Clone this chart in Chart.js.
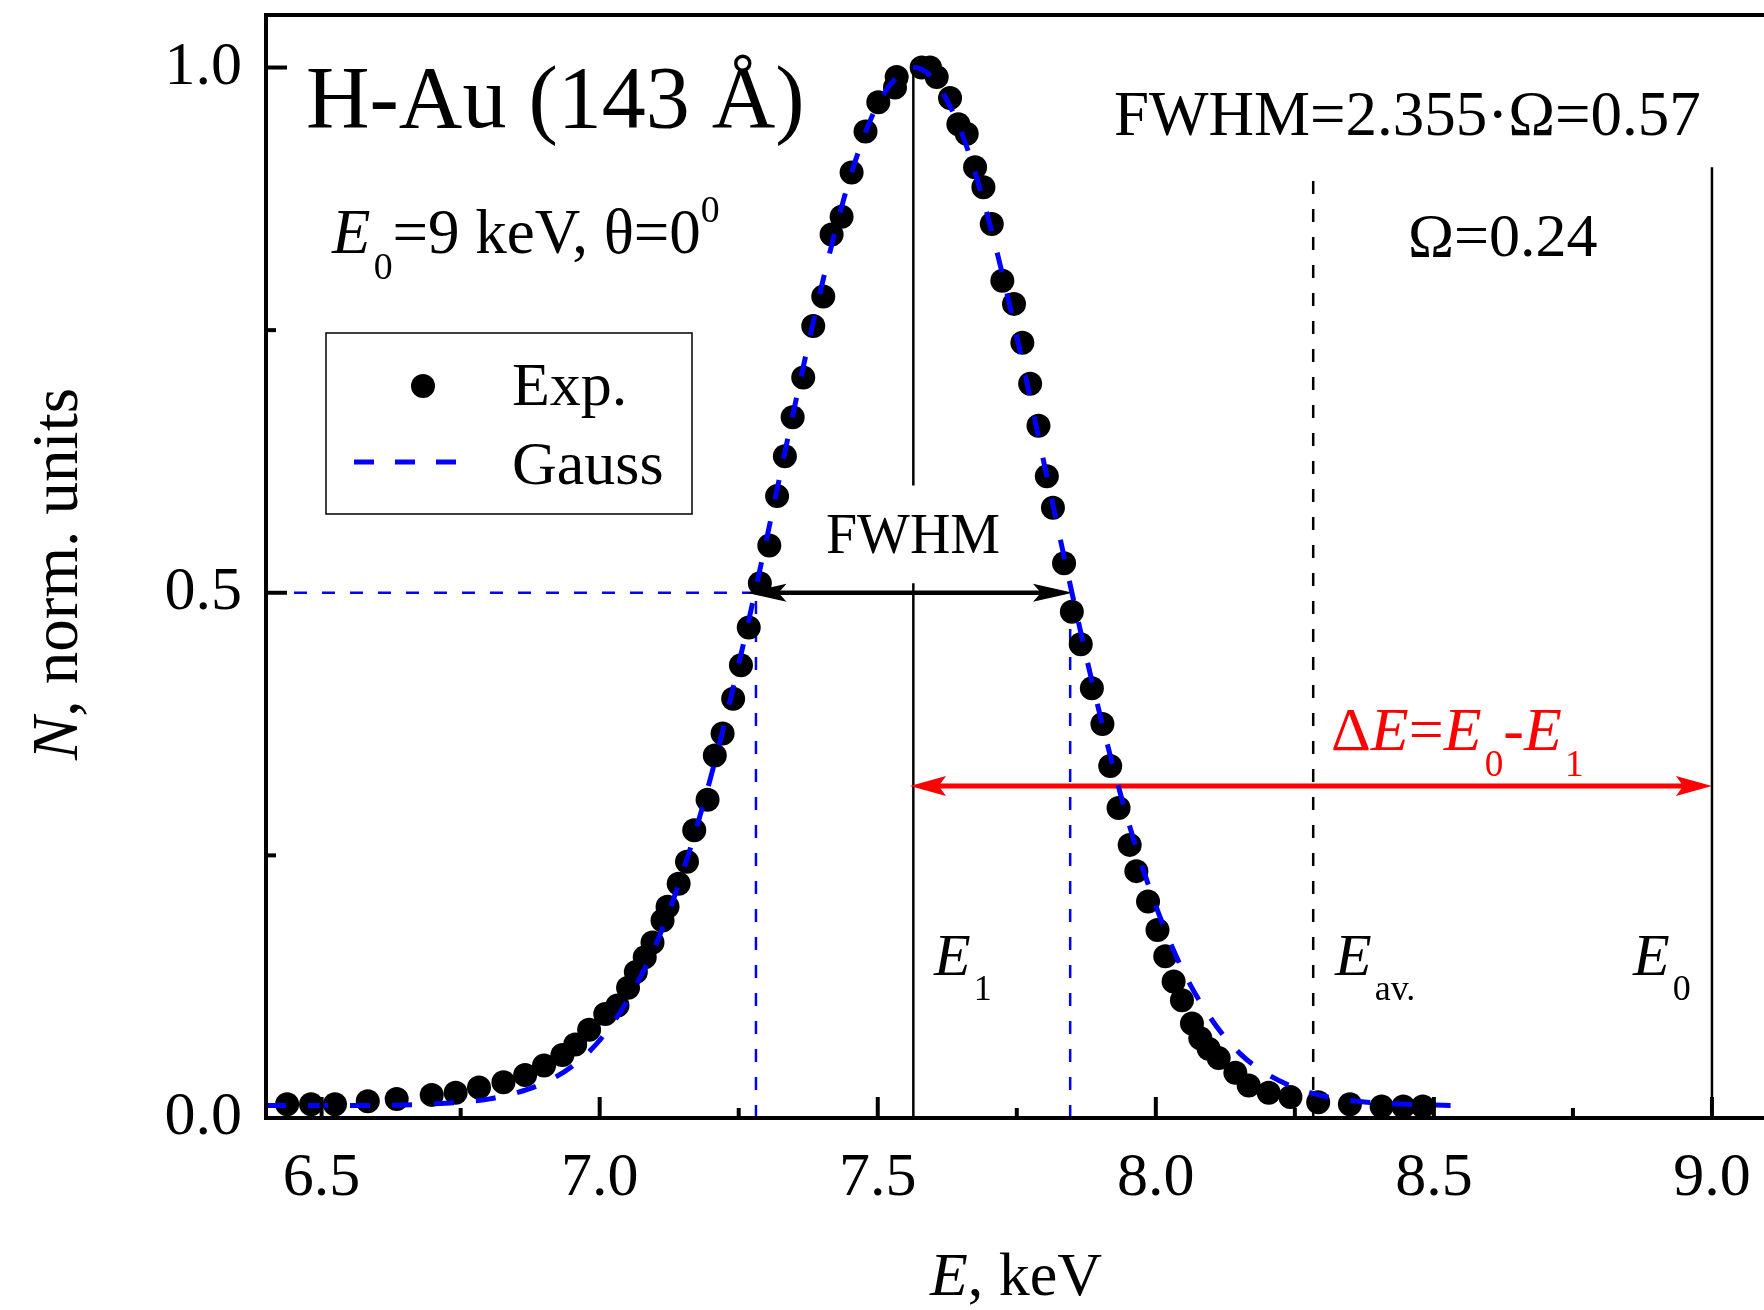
<!DOCTYPE html>
<html>
<head>
<meta charset="utf-8">
<script src="https://cdn.jsdelivr.net/npm/chart.js@4.4.1/dist/chart.umd.min.js"></script>
<style>
  html, body { margin: 0; padding: 0; background: #fff; }
  canvas { display: block; }
</style>
</head>
<body>
<canvas id="spectrumChart" width="1764" height="1310"></canvas>
<script>
// Experimental spectrum (energy in keV, normalized counts)
const expEnergy = [6.438, 6.481, 6.524, 6.583, 6.635, 6.698, 6.741, 6.783, 6.827, 6.866,
  6.900, 6.933, 6.956, 6.981, 7.010, 7.032, 7.051, 7.065, 7.081, 7.095,
  7.113, 7.122, 7.142, 7.157, 7.170, 7.194, 7.207, 7.221, 7.240, 7.254,
  7.268, 7.288, 7.305, 7.319, 7.333, 7.347, 7.366, 7.384, 7.402, 7.417,
  7.435, 7.453, 7.478, 7.501, 7.531, 7.534, 7.579, 7.594, 7.606, 7.630,
  7.645, 7.660, 7.675, 7.690, 7.705, 7.724, 7.745, 7.760, 7.774, 7.789,
  7.804, 7.815, 7.835, 7.849, 7.865, 7.885, 7.904, 7.918, 7.933, 7.953,
  7.965, 7.986, 8.003, 8.017, 8.032, 8.047, 8.065, 8.080, 8.095, 8.113,
  8.143, 8.167, 8.203, 8.242, 8.292, 8.349, 8.406, 8.445, 8.480];
const expCounts = [0.013, 0.013, 0.013, 0.016, 0.018, 0.022, 0.024, 0.029, 0.034, 0.041,
  0.050, 0.060, 0.070, 0.084, 0.099, 0.107, 0.124, 0.139, 0.153, 0.167,
  0.188, 0.201, 0.223, 0.244, 0.274, 0.303, 0.345, 0.366, 0.399, 0.431,
  0.467, 0.509, 0.545, 0.592, 0.630, 0.667, 0.705, 0.754, 0.782, 0.841,
  0.858, 0.900, 0.939, 0.967, 0.981, 0.991, 1.000, 1.000, 0.991, 0.971,
  0.946, 0.937, 0.905, 0.886, 0.851, 0.797, 0.775, 0.738, 0.699, 0.659,
  0.611, 0.581, 0.528, 0.482, 0.451, 0.409, 0.375, 0.335, 0.295, 0.260,
  0.235, 0.206, 0.179, 0.154, 0.130, 0.112, 0.090, 0.076, 0.066, 0.057,
  0.043, 0.031, 0.024, 0.020, 0.015, 0.013, 0.011, 0.011, 0.011];

// Gauss fit curve
const gaussEnergy = [6.40, 6.50, 6.60, 6.70, 6.75, 6.80, 6.85, 6.90, 6.95, 7.00,
  7.05, 7.10, 7.15, 7.20, 7.25, 7.30, 7.35, 7.40, 7.45, 7.50,
  7.55, 7.564, 7.60, 7.65, 7.70, 7.75, 7.80, 7.85, 7.90, 7.95,
  8.00, 8.05, 8.10, 8.15, 8.20, 8.25, 8.30, 8.35, 8.40, 8.45, 8.53];
const gaussCounts = [0.012, 0.012, 0.012, 0.0135, 0.015, 0.018, 0.024, 0.0335, 0.049, 0.074,
  0.112, 0.164, 0.235, 0.325, 0.432, 0.551, 0.676, 0.794, 0.895, 0.965,
  0.998, 1.000, 0.989, 0.939, 0.854, 0.744, 0.621, 0.498, 0.383, 0.283,
  0.202, 0.139, 0.094, 0.062, 0.042, 0.029, 0.021, 0.0166, 0.0143, 0.013, 0.012];

// Axis ticks
const xMajorTicks = [6.5, 7.0, 7.5, 8.0, 8.5, 9.0];
const xMinorTicks = [6.75, 7.25, 7.75, 8.25, 8.75];
const yMajorTicks = [0.0, 0.5, 1.0];
const yMinorTicks = [0.25, 0.75];

// Marked energies (keV)
const E1 = 7.564;        // peak position
const Eav = 8.283;       // average energy
const E0 = 9.0;          // initial energy
const halfLeft = 7.281;  // FWHM bounds
const halfRight = 7.846;

const FONT = '"Liberation Serif", "Times New Roman", serif';

// draws a line of text with italic / sub / sup parts
function drawRich(ctx, x, y, size, parts, align, color) {
  const fontFor = (p) => {
    const s = (p[1] === 'sub' || p[1] === 'sup') ? size * 0.6 : size;
    return (p[1] === 'i' ? 'italic ' : '') + s + 'px ' + FONT;
  };
  let total = 0;
  parts.forEach(p => { ctx.font = fontFor(p); total += ctx.measureText(p[0]).width + (p[1] === 'sub' ? size * 0.05 : 0); });
  let cx = x;
  if (align === 'center') cx = x - total / 2;
  if (align === 'right') cx = x - total;
  ctx.fillStyle = color || '#000';
  ctx.textAlign = 'left';
  ctx.textBaseline = 'alphabetic';
  parts.forEach(p => {
    ctx.font = fontFor(p);
    let dy = 0;
    if (p[1] === 'sub') { cx += size * 0.05; dy = size * 0.42; }
    if (p[1] === 'sup') dy = -size * 0.5;
    ctx.fillText(p[0], cx, y + dy);
    cx += ctx.measureText(p[0]).width;
  });
}

function arrowHead(ctx, tipX, tipY, dir, len, half) {
  ctx.beginPath();
  ctx.moveTo(tipX, tipY);
  ctx.lineTo(tipX - dir * len, tipY - half);
  ctx.lineTo(tipX - dir * len * 0.8, tipY);
  ctx.lineTo(tipX - dir * len, tipY + half);
  ctx.closePath();
  ctx.fill();
}

function vLine(ctx, x, y1, y2) {
  ctx.beginPath(); ctx.moveTo(x, y1); ctx.lineTo(x, y2); ctx.stroke();
}

const markersPlugin = {
  id: 'markers',
  beforeDatasetsDraw(chart) {
    const ctx = chart.ctx, xs = chart.scales.x, ys = chart.scales.y;
    const X = v => xs.getPixelForValue(v), Y = v => ys.getPixelForValue(v);
    ctx.save();
    // blue FWHM guide lines
    ctx.strokeStyle = '#0000ff';
    ctx.lineWidth = 2.5;
    ctx.setLineDash([13, 15]);
    ctx.beginPath(); ctx.moveTo(chart.chartArea.left, Y(0.5)); ctx.lineTo(X(halfLeft), Y(0.5)); ctx.stroke();
    vLine(ctx, X(halfLeft), Y(0), Y(0.5));
    vLine(ctx, X(halfRight), Y(0), Y(0.5));
    // E_av dashed
    ctx.strokeStyle = '#000';
    vLine(ctx, X(Eav), Y(0), Y(0.905));
    ctx.setLineDash([]);
    // E1 and E0 solid
    vLine(ctx, X(E1), Y(0), Y(0.509));
    vLine(ctx, X(E1), Y(0.602), Y(1.0));
    vLine(ctx, X(E0), Y(0), Y(0.905));
    // FWHM double arrow
    ctx.fillStyle = '#000';
    ctx.lineWidth = 4.5;
    ctx.beginPath(); ctx.moveTo(X(7.264) + 20, Y(0.5)); ctx.lineTo(X(7.851) - 20, Y(0.5)); ctx.stroke();
    arrowHead(ctx, X(7.264), Y(0.5), -1, 40, 9);
    arrowHead(ctx, X(7.851), Y(0.5), 1, 40, 9);
    // red Delta E double arrow
    ctx.strokeStyle = '#ff0000';
    ctx.fillStyle = '#ff0000';
    ctx.lineWidth = 5;
    ctx.beginPath(); ctx.moveTo(X(7.558) + 20, Y(0.316)); ctx.lineTo(X(E0) - 20, Y(0.316)); ctx.stroke();
    arrowHead(ctx, X(7.558), Y(0.316), -1, 36, 10);
    arrowHead(ctx, X(E0), Y(0.316), 1, 36, 10);
    ctx.restore();
  },
  afterDraw(chart) {
    const ctx = chart.ctx, xs = chart.scales.x, ys = chart.scales.y;
    const area = chart.chartArea;
    ctx.save();
    // frame: left, bottom, top (plot runs past the right edge)
    ctx.strokeStyle = '#000';
    ctx.lineWidth = 4;
    ctx.beginPath();
    ctx.moveTo(chart.width, area.top);
    ctx.lineTo(area.left, area.top);
    ctx.lineTo(area.left, area.bottom);
    ctx.lineTo(chart.width, area.bottom);
    ctx.stroke();
    // inward ticks
    xMajorTicks.forEach(v => vLine(ctx, xs.getPixelForValue(v), area.bottom, area.bottom - 21));
    xMinorTicks.forEach(v => vLine(ctx, xs.getPixelForValue(v), area.bottom, area.bottom - 10));
    const hTick = (v, len) => {
      const y = ys.getPixelForValue(v);
      ctx.beginPath(); ctx.moveTo(area.left, y); ctx.lineTo(area.left + len, y); ctx.stroke();
    };
    yMajorTicks.forEach(v => hTick(v, 21));
    yMinorTicks.forEach(v => hTick(v, 10));

    // texts
    drawRich(ctx, 306, 127, 88, [['H-Au (143 Å)', '']]);
    drawRich(ctx, 1114, 135, 63, [['FWHM=2.355·Ω=0.57', '']]);
    drawRich(ctx, 1408, 256, 62, [['Ω=0.24', '']]);
    drawRich(ctx, 332, 253, 63, [['E', 'i'], ['0', 'sub'], ['=9 keV, θ=0', ''], ['0', 'sup']]);
    drawRich(ctx, 913, 553, 56, [['FWHM', '']], 'center');
    drawRich(ctx, 1331, 750, 62, [['Δ', ''], ['E', 'i'], ['=', ''], ['E', 'i'], ['0', 'sub'], ['-', ''], ['E', 'i'], ['1', 'sub']], 'left', '#ff0000');
    drawRich(ctx, 934, 975, 60, [['E', 'i'], ['1', 'sub']]);
    drawRich(ctx, 1335, 975, 60, [['E', 'i'], ['av.', 'sub']]);
    drawRich(ctx, 1633, 975, 60, [['E', 'i'], ['0', 'sub']]);

    // legend box
    ctx.lineWidth = 1.5;
    ctx.strokeStyle = '#000';
    ctx.strokeRect(326, 333, 366, 181);
    ctx.fillStyle = '#000';
    ctx.beginPath(); ctx.arc(423, 386, 12, 0, Math.PI * 2); ctx.fill();
    ctx.strokeStyle = '#0000ff';
    ctx.lineWidth = 5;
    ctx.setLineDash([20, 21]);
    ctx.beginPath(); ctx.moveTo(354, 462); ctx.lineTo(475, 462); ctx.stroke();
    ctx.setLineDash([]);
    drawRich(ctx, 512, 405, 62, [['Exp.', '']]);
    drawRich(ctx, 512, 484, 62, [['Gauss', '']]);

    // axis titles
    drawRich(ctx, 1016, 1295, 62, [['E', 'i'], [', keV', '']], 'center');
    ctx.translate(77, 574);
    ctx.rotate(-Math.PI / 2);
    drawRich(ctx, 0, 0, 65, [['N', 'i'], [', norm. units', '']], 'center');
    ctx.restore();
  }
};

new Chart(document.getElementById('spectrumChart').getContext('2d'), {
  type: 'scatter',
  data: {
    datasets: [{
      label: 'Gauss',
      type: 'line',
      data: gaussEnergy.map((e, i) => ({ x: e, y: gaussCounts[i] })),
      borderColor: '#0000ff',
      borderWidth: 5,
      borderDash: [20, 22],
      pointRadius: 0,
      fill: false,
      cubicInterpolationMode: 'monotone'
    }, {
      label: 'Exp.',
      data: expEnergy.map((e, i) => ({ x: e, y: expCounts[i] })),
      backgroundColor: '#000',
      borderWidth: 0,
      pointRadius: 12
    }]
  },
  options: {
    responsive: false,
    animation: false,
    devicePixelRatio: 1,
    layout: { padding: { top: 15, left: 0, right: 0, bottom: 0 } },
    plugins: { legend: { display: false }, tooltip: { enabled: false } },
    scales: {
      x: {
        type: 'linear',
        min: 6.4,
        max: 9.072,
        grid: { display: false, drawTicks: false },
        border: { display: false },
        afterBuildTicks: s => { s.ticks = xMajorTicks.map(v => ({ value: v })); },
        afterFit: s => { s.height = 192; s.paddingLeft = 0; s.paddingRight = 0; },
        ticks: {
          autoSkip: false,
          maxRotation: 0,
          padding: 24,
          color: '#000',
          font: { family: FONT, size: 62 },
          callback: v => Number(v).toFixed(1)
        }
      },
      y: {
        min: 0,
        max: 1.05,
        grid: { display: false, drawTicks: false },
        border: { display: false },
        afterBuildTicks: s => { s.ticks = yMajorTicks.map(v => ({ value: v })); },
        afterFit: s => { s.width = 266; s.paddingTop = 0; s.paddingBottom = 0; },
        ticks: {
          padding: 24,
          color: '#000',
          font: { family: FONT, size: 62 },
          callback: v => Number(v).toFixed(1)
        }
      }
    }
  },
  plugins: [markersPlugin]
});
</script>
</body>
</html>
